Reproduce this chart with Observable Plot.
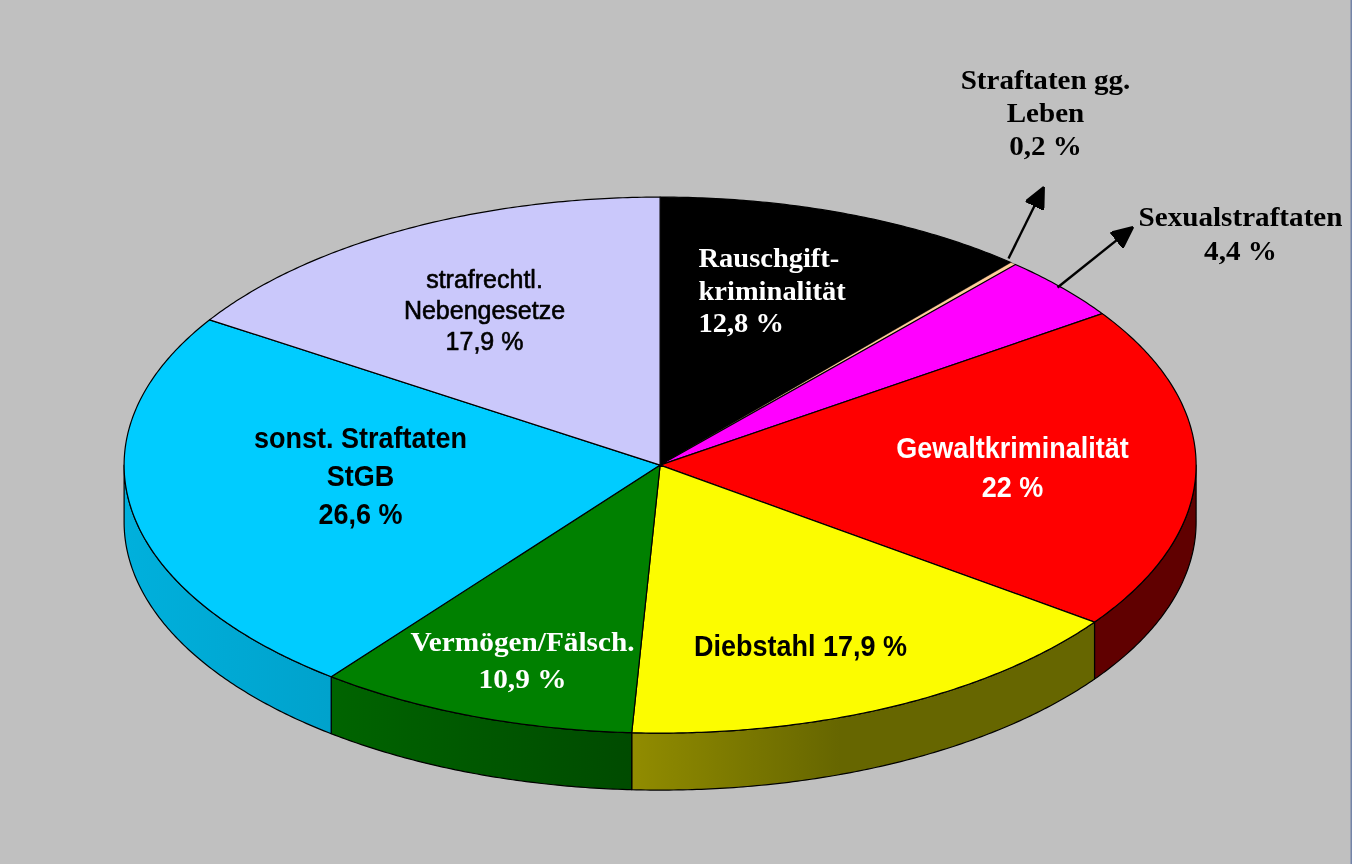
<!DOCTYPE html>
<html lang="de">
<head>
<meta charset="utf-8">
<style>
html,body{margin:0;padding:0;background:#c0c0c0;overflow:hidden}
svg{display:block;background:#c0c0c0;filter:blur(0.5px)}
</style>
<script src="https://cdn.jsdelivr.net/npm/d3@7"></script>
<script src="https://cdn.jsdelivr.net/npm/@observablehq/plot@0.6"></script>
</head>
<body>
<div id="chart"></div>
<script>
// ---- data, clockwise from twelve o'clock ----
const categories = ["Rauschgiftkriminalität","Straftaten gg. Leben","Sexualstraftaten","Gewaltkriminalität","Diebstahl","Vermögen/Fälsch.","sonst. Straftaten StGB","strafrechtl. Nebengesetze"];
const values = [12.8,0.2,4.4,22,17.9,10.9,26.6,17.9];
const sliceColors = ["#000000","#ffcc99","#ff00ff","#ff0000","#fcfc00","#008000","#00ccff","#cac8fb"];
const wallFills = [null,null,null,"#600000","url(#wallYellow)","url(#wallGreen)","url(#wallBlue)",null];
const labelTexts = [
  "Rauschgift-\nkriminalität\n12,8 %",
  "Straftaten gg.\nLeben\n0,2 %",
  "Sexualstraftaten\n4,4 %",
  "Gewaltkriminalität\n22 %",
  "Diebstahl 17,9 %",
  "Vermögen/Fälsch.\n10,9 %",
  "sonst. Straftaten\nStGB\n26,6 %",
  "strafrechtl.\nNebengesetze\n17,9 %"
];

// ---- layout ----
const W = 1352, H = 864;
const pie = {cx: 659.6, cy: 464.6, rx: 536, ry: 268, depth: 57};
const SERIF = "'Liberation Serif', serif", SANS = "'Liberation Sans', sans-serif";
const labelStyle = [
  {x: 698, y: 288.5, anchor: "start", size: 27, lh: 1.22, font: SERIF, fill: "#fff", weight: "bold", sx: 1.055},
  {x: 1045, y: 111, anchor: "middle", size: 26.5, lh: 1.245, font: SERIF, fill: "#000", weight: "bold", sx: 1.098},
  {x: 1240, y: 232, anchor: "middle", size: 26.5, lh: 1.28, font: SERIF, fill: "#000", weight: "bold", sx: 1.1},
  {x: 1012, y: 465, anchor: "middle", size: 30, lh: 1.3, font: SANS, fill: "#fff", weight: "bold", sx: 0.9},
  {x: 800, y: 643, anchor: "middle", size: 30, lh: 1.3, font: SANS, fill: "#000", weight: "bold", sx: 0.9},
  {x: 522, y: 657, anchor: "middle", size: 27, lh: 1.37, font: SERIF, fill: "#fff", weight: "bold", sx: 1.085},
  {x: 360, y: 473, anchor: "middle", size: 30, lh: 1.27, font: SANS, fill: "#000", weight: "bold", sx: 0.9},
  {x: 484, y: 309, anchor: "middle", size: 25, lh: 1.24, font: SANS, fill: "#000", weight: "normal", sx: 1, halo: 0.6}
];
const callouts = [
  {x1: 1008, y1: 258, x2: 1041.7, y2: 189.7},
  {x1: 1057, y1: 287, x2: 1129.7, y2: 228.9}
];
const edgeLine = [W - 1];

// ---- geometry derived from the values ----
const total = d3.sum(values);
const edges = d3.cumsum(values).map(v => v / total * 360);
const spans = values.map((_, i) => [i ? edges[i - 1] : 0, edges[i]]);
const rimPoint = (deg, drop = 0) => {
  const a = deg * Math.PI / 180;
  return {x: pie.cx + pie.rx * Math.sin(a), y: pie.cy - pie.ry * Math.cos(a) + drop};
};
const arcDegs = (a, b) => {
  const n = Math.max(2, Math.ceil((b - a) * 2));
  return d3.range(n + 1).map(i => a + (b - a) * i / n);
};
const topOutline = ([a, b]) => [{x: pie.cx, y: pie.cy}, ...arcDegs(a, b).map(d => rimPoint(d))];
const wallOutline = ([a, b]) => {
  const from = Math.max(a, 90), to = Math.min(b, 270);
  if (from >= to) return [];
  const degs = arcDegs(from, to);
  return [...degs.map(d => rimPoint(d)), ...degs.reverse().map(d => rimPoint(d, pie.depth))];
};

const gradient = (id, stops) => {
  const g = d3.create("svg:linearGradient").attr("id", id).attr("x1", 0).attr("x2", 1).attr("y1", 0).attr("y2", 0);
  stops.forEach(([o, c]) => g.append("stop").attr("offset", o).attr("stop-color", c));
  return g.node();
};
const defsMark = () => {
  const d = d3.create("svg:defs");
  d.append(() => gradient("wallYellow", [[0, "#918c00"], [0.45, "#666600"], [1, "#666600"]]));
  d.append(() => gradient("wallGreen", [[0, "#006400"], [1, "#004b00"]]));
  d.append(() => gradient("wallBlue", [[0, "#00b0dc"], [1, "#00a2cc"]]));
  return d.node();
};
const arrowHead = () => d3.create("svg:marker")
  .attr("viewBox", "-18 -10 22 20").attr("refX", 0).attr("refY", 0)
  .attr("markerWidth", 22).attr("markerHeight", 20)
  .attr("markerUnits", "userSpaceOnUse").attr("orient", "auto")
  .call(m => m.append("path").attr("d", "M3.5,0L-17,-9.5L-17,9.5Z").attr("fill", "#000"))
  .node();
const squeeze = (sx) => (index, scales, channels, dims, context, next) => {
  const g = next(index, scales, channels, dims, context);
  if (sx !== 1) d3.select(g).selectAll("text").attr("transform", function () {
    return `${this.getAttribute("transform") || ""} scale(${sx},1)`;
  });
  return g;
};

const marks = [defsMark];
spans.forEach((s, i) => {
  const w = wallOutline(s);
  if (w.length && wallFills[i]) marks.push(Plot.line(w, {x: "x", y: "y", curve: "linear-closed", fill: wallFills[i], stroke: "#000", strokeWidth: 1.2, strokeLinejoin: "round"}));
});
spans.forEach((s, i) => {
  marks.push(Plot.line(topOutline(s), {x: "x", y: "y", curve: "linear-closed", fill: sliceColors[i], stroke: "#000", strokeWidth: i === 1 ? 0.4 : 1.2, strokeLinejoin: "round"}));
});
marks.push(Plot.link(callouts, {x1: "x1", y1: "y1", x2: "x2", y2: "y2", stroke: "#000", strokeWidth: 2.4, markerEnd: arrowHead}));
labelTexts.forEach((t, i) => {
  const s = labelStyle[i];
  marks.push(Plot.text([t], {
    x: () => s.x, y: () => s.y, text: d => d, textAnchor: s.anchor, lineAnchor: "middle",
    lineHeight: s.lh, fontSize: s.size, fontFamily: s.font, fontWeight: s.weight, fill: s.fill,
    stroke: s.halo ? s.fill : "none", strokeWidth: s.halo || 0, render: squeeze(s.sx)
  }));
});
marks.push(Plot.ruleX(edgeLine, {stroke: "#7484a8", strokeWidth: 2}));

const chart = Plot.plot({
  width: W, height: H, margin: 0,
  x: {domain: [0, W], range: [0, W], axis: null},
  y: {domain: [0, H], range: [0, H], axis: null},
  style: {background: "#c0c0c0"},
  marks
});
document.getElementById("chart").appendChild(chart);
</script>
</body>
</html>
